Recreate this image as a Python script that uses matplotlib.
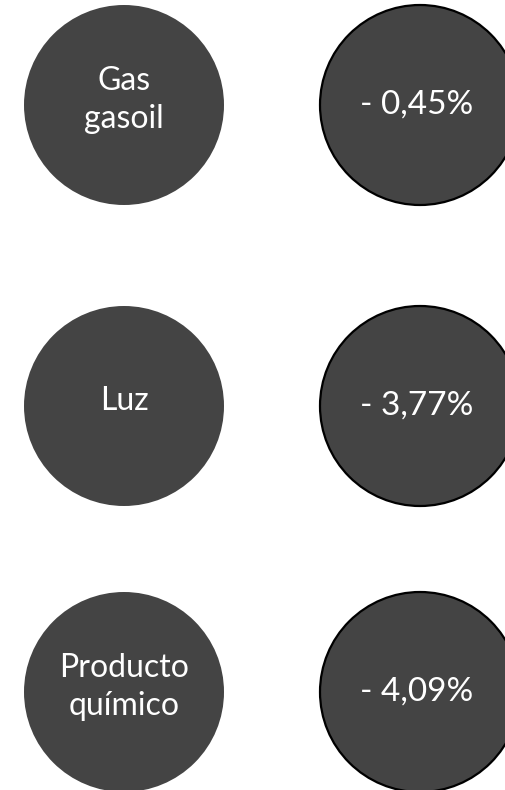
import matplotlib.pyplot as plt
from matplotlib.patches import Circle

# datos
categorias = ['Gas\ngasoil', 'Luz', 'Producto\nquímico']
variacion = [-0.45, -3.77, -4.09]  # %

# disposición (px)
ancho, alto = 505, 790
fila_y = [105, 406, 692]
x_izq, x_der = 124, 420
radio = 100
gris = '#444444'
fuente = ['Lato', 'DejaVu Sans']


def fmt_pct(v):
    # "- 0,45%" con coma decimal
    s = '{:.2f}'.format(abs(v)).replace('.', ',')
    return ('- ' if v < 0 else '') + s + '%'


fig = plt.figure(figsize=(ancho / 100, alto / 100), dpi=100)
ax = fig.add_axes([0, 0, 1, 1])
ax.set_xlim(0, ancho)
ax.set_ylim(alto, 0)
ax.set_aspect('equal')
ax.axis('off')

for y, cat, v in zip(fila_y, categorias, variacion):
    ax.add_patch(Circle((x_izq, y), radio, facecolor=gris, edgecolor='none'))
    ax.add_patch(Circle((x_der, y), radio, facecolor=gris, edgecolor='black', linewidth=1.6))
    ax.text(x_izq, y - 5, cat, color='white', fontsize=23, family=fuente,
            ha='center', va='center', linespacing=1.32)
    ax.text(x_der - 3, y, fmt_pct(v), color='white', fontsize=24, family=fuente,
            ha='center', va='center')

fig.savefig('out.png', dpi=100)
